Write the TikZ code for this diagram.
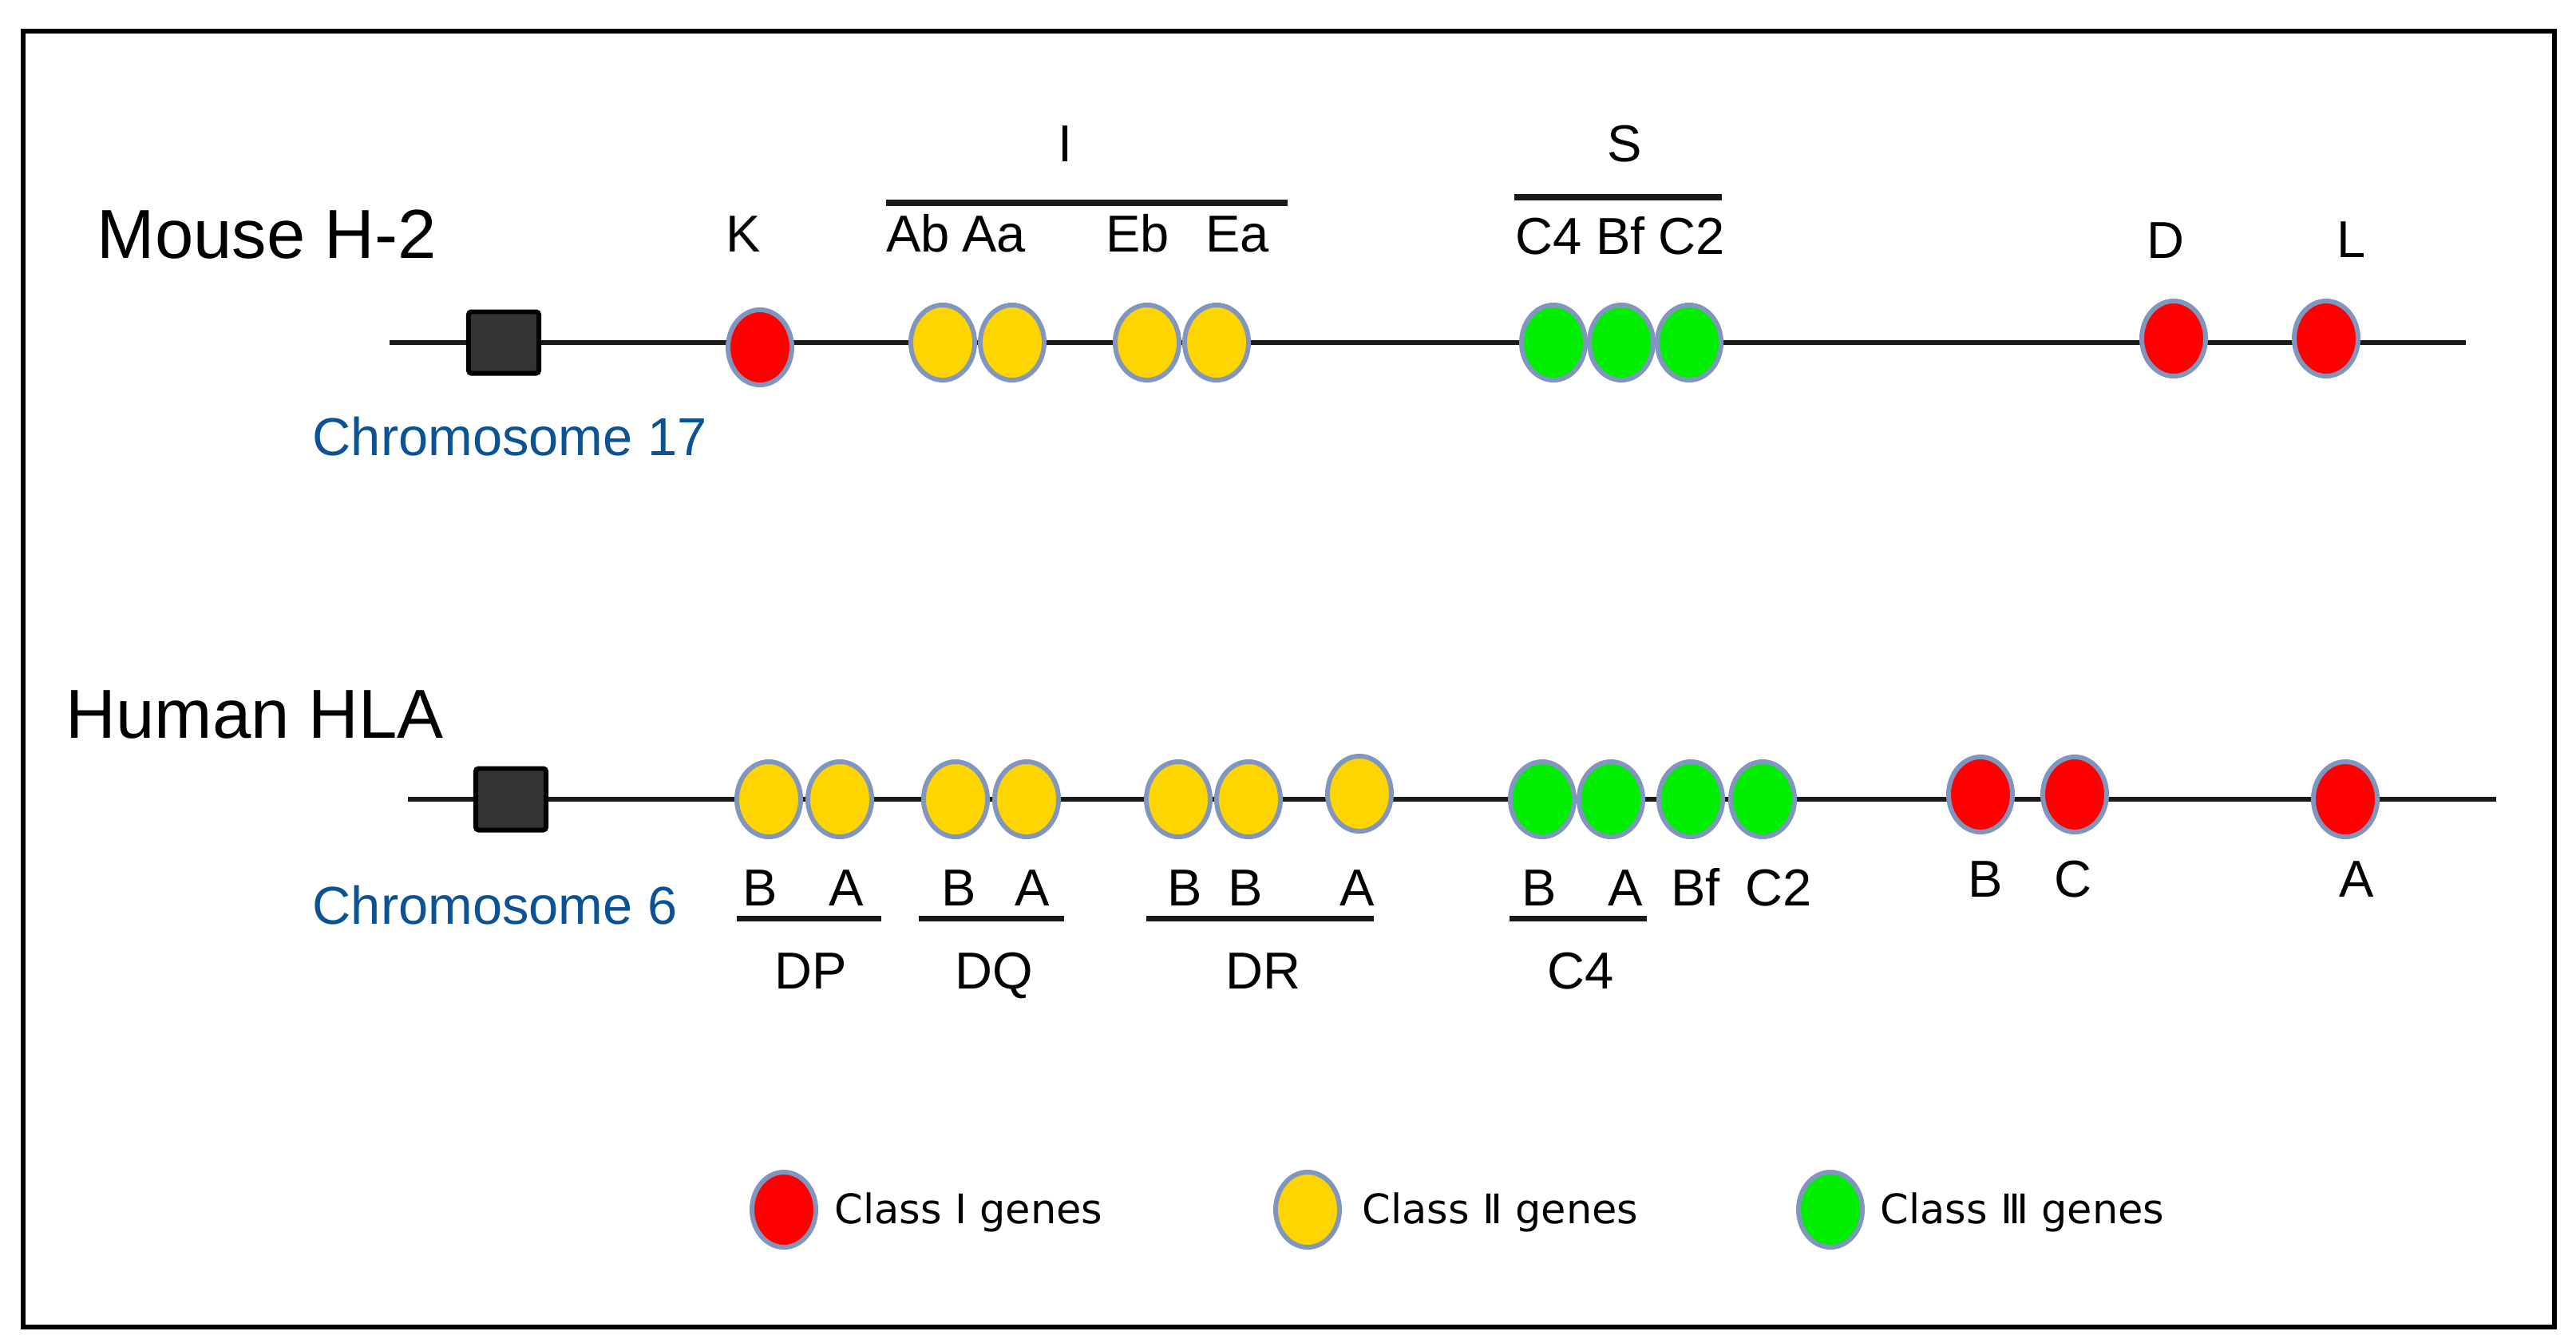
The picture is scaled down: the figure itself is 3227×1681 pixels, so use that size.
\documentclass[tikz,border=0pt]{standalone}
\usepackage{fontspec}
\setmainfont{Liberation Sans}
\newfontfamily\legfont{DejaVu Sans}
\usetikzlibrary{shapes.geometric}
\definecolor{gred}{RGB}{255,0,0}
\definecolor{gyel}{RGB}{255,213,0}
\definecolor{ggrn}{RGB}{0,238,0}
\definecolor{gedge}{RGB}{128,150,190}
\definecolor{chrblue}{RGB}{11,83,148}
\definecolor{linegray}{RGB}{26,26,26}
\definecolor{centrofill}{RGB}{51,51,51}
\begin{document}
\begin{tikzpicture}[x=0.01cm,y=-0.01cm,
  gene/.style={ellipse, draw=gedge, line width=1.7pt, minimum width=0.8cm, minimum height=0.94cm, inner sep=0pt},
  cI/.style={gene, fill=gred},
  cII/.style={gene, fill=gyel},
  cIII/.style={gene, fill=ggrn},
  chrline/.style={draw=linegray, line width=1.45pt},
  grpline/.style={draw=linegray, line width=2pt},
  centro/.style={draw=black, fill=centrofill, line width=1.7pt, rounded corners=1pt, minimum width=0.88cm, minimum height=0.77cm, inner sep=0pt},
  lbl/.style={font=\fontsize{18.5}{20}\selectfont, inner sep=0pt, anchor=base},
  title/.style={font=\fontsize{24.7}{27}\selectfont, inner sep=0pt, anchor=base west},
  chrlbl/.style={font=\fontsize{19}{21}\selectfont, text=chrblue, inner sep=0pt, anchor=base west},
  leg/.style={font=\legfont\fontsize{14.5}{16}\selectfont, inner sep=0pt, anchor=base west}]
\useasboundingbox (0,0) rectangle (3227,1681);
\draw[line width=1.85pt] (29,39) rectangle (3200,1662);

% ---------- Mouse ----------
\node[title] (mtitle) at (121,323) {Mouse H-2};
\coordinate (mL) at (488,429);
\coordinate (mR) at (3089,429);
\draw[chrline] (mL) -- (mR);
\node[centro] (mcen) at (631,429) {};
\node[chrlbl] (mchr) at (391,570) {Chromosome 17};
\node[cI] (mK) at (952,435) {};
\node[cII] (mAb) at (1181,429) {};
\node[cII] (mAa) at (1268,429) {};
\node[cII] (mEb) at (1437,429) {};
\node[cII] (mEa) at (1524,429) {};
\node[cIII] (mC4) at (1946,429) {};
\node[cIII] (mBf) at (2031,429) {};
\node[cIII] (mC2) at (2116,429) {};
\node[cI] (mD) at (2723,424) {};
\node[cI] (mLg) at (2914,424) {};

\node[lbl] (tK) at (931,315) {K};
\node[lbl] (tI) at (1335,202) {I};
\coordinate (iL) at (1110,254);
\coordinate (iR) at (1613,254);
\draw[grpline] (iL) -- (iR);
\node[lbl] (tAb) at (1150,315) {Ab};
\node[lbl] (tAa) at (1245,315) {Aa};
\node[lbl] (tEb) at (1425,315) {Eb};
\node[lbl] (tEa) at (1550,315) {Ea};
\node[lbl] (tS) at (2035,202) {S};
\coordinate (sL) at (1897,247);
\coordinate (sR) at (2157,247);
\draw[grpline] (sL) -- (sR);
\node[lbl] (tC4) at (1940,318) {C4};
\node[lbl] (tBf) at (2030,318) {Bf};
\node[lbl] (tC2) at (2119,318) {C2};
\node[lbl] (tD) at (2713,323) {D};
\node[lbl] (tL) at (2946,322) {L};

% ---------- Human ----------
\node[title] (htitle) at (82,924) {Human HLA};
\coordinate (hL) at (511,1001);
\coordinate (hR) at (3127,1001);
\draw[chrline] (hL) -- (hR);
\node[centro] (hcen) at (640,1001) {};
\node[chrlbl] (hchr) at (391,1157) {Chromosome 6};
\node[cII] (hDPB) at (963,1001) {};
\node[cII] (hDPA) at (1052,1001) {};
\node[cII] (hDQB) at (1197,1001) {};
\node[cII] (hDQA) at (1286,1001) {};
\node[cII] (hDRB1) at (1476,1001) {};
\node[cII] (hDRB2) at (1564,1001) {};
\node[cII] (hDRA) at (1703,994) {};
\node[cIII] (hC4B) at (1932,1001) {};
\node[cIII] (hC4A) at (2018,1001) {};
\node[cIII] (hBf) at (2118,1001) {};
\node[cIII] (hC2) at (2208,1001) {};
\node[cI] (hB) at (2481,995) {};
\node[cI] (hC) at (2599,995) {};
\node[cI] (hA) at (2938,1001) {};

\node[lbl] (lDPB) at (952,1134) {B};
\node[lbl] (lDPA) at (1060,1134) {A};
\node[lbl] (lDQB) at (1201,1134) {B};
\node[lbl] (lDQA) at (1293,1134) {A};
\node[lbl] (lDRB1) at (1484,1134) {B};
\node[lbl] (lDRB2) at (1560,1134) {B};
\node[lbl] (lDRA) at (1700,1134) {A};
\node[lbl] (lC4B) at (1928,1134) {B};
\node[lbl] (lC4A) at (2036,1134) {A};
\node[lbl] (lBf) at (2124,1134) {Bf};
\node[lbl] (lC2) at (2228,1134) {C2};
\node[lbl] (lB) at (2487,1123) {B};
\node[lbl] (lC) at (2597,1123) {C};
\node[lbl] (lA) at (2952,1123) {A};

\coordinate (dpL) at (923,1150);  \coordinate (dpR) at (1104,1150);
\coordinate (dqL) at (1151,1150); \coordinate (dqR) at (1333,1150);
\coordinate (drL) at (1436,1150); \coordinate (drR) at (1721,1150);
\coordinate (c4L) at (1891,1150); \coordinate (c4R) at (2063,1150);
\draw[grpline] (dpL) -- (dpR);
\draw[grpline] (dqL) -- (dqR);
\draw[grpline] (drL) -- (drR);
\draw[grpline] (c4L) -- (c4R);
\node[lbl] (gDP) at (1016,1238) {DP};
\node[lbl] (gDQ) at (1245,1238) {DQ};
\node[lbl] (gDR) at (1582,1238) {DR};
\node[lbl] (gC4) at (1980,1238) {C4};

% ---------- Legend ----------
\node[cI] (k1) at (982,1515) {};
\node[leg] (k1t) at (1045,1532) {Class I genes};
\node[cII] (k2) at (1638,1515) {};
\node[leg] (k2t) at (1706,1532) {Class Ⅱ genes};
\node[cIII] (k3) at (2293,1515) {};
\node[leg] (k3t) at (2355,1532) {Class Ⅲ genes};
\end{tikzpicture}
\end{document}
